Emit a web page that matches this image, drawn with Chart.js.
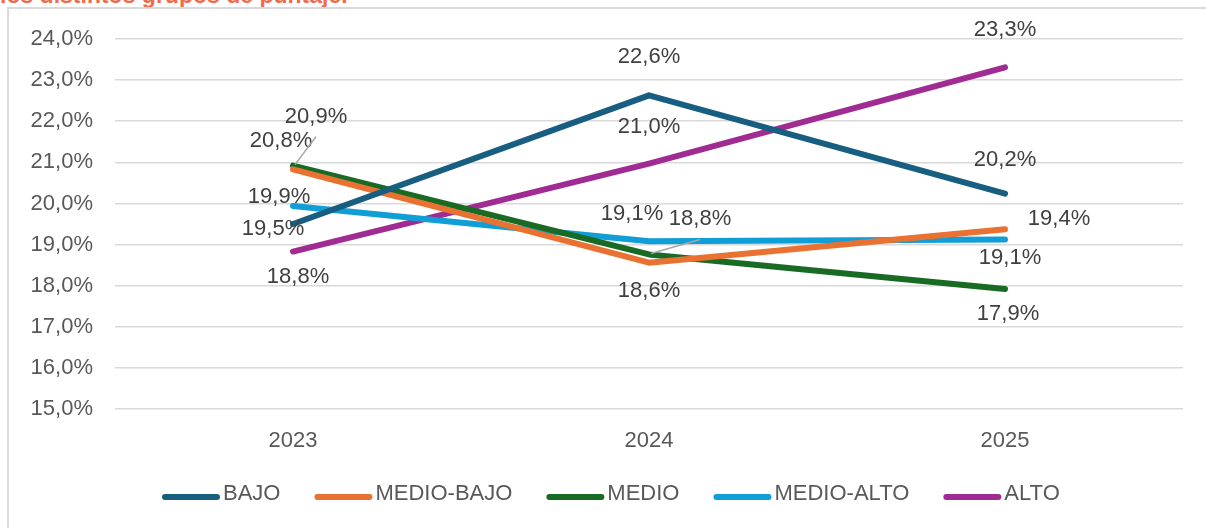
<!DOCTYPE html>
<html>
<head>
<meta charset="utf-8">
<script src="https://cdn.jsdelivr.net/npm/chart.js@4/dist/chart.umd.min.js"></script>
<style>
  html, body { margin: 0; padding: 0; background: #fff; }
  body { width: 1206px; height: 528px; position: relative; overflow: hidden; }
  #title {
    position: absolute; left: 0; top: -18px;
    font: bold 23px "Liberation Sans", Arial, sans-serif;
    color: #ee6c4d; white-space: nowrap;
  }
  #frame {
    position: absolute; left: 7px; top: 7px; width: 1300px; height: 600px;
    border-left: 2px solid #d9d9d9; border-top: 2px solid #d9d9d9;
  }
  #wrap { position: absolute; left: 0; top: 0; width: 1206px; height: 528px; }
</style>
</head>
<body>
<div id="title">los distintos grupos de puntaje.</div>
<div id="frame"></div>
<div id="wrap"><canvas id="chart"></canvas></div>
<script>
const years = ['2023', '2024', '2025'];
const bajo = [19.50, 22.63, 20.24];
const medioBajo = [20.83, 18.56, 19.37];
const medio = [20.92, 18.76, 17.92];
const medioAlto = [19.94, 19.08, 19.12];
const alto = [18.83, 20.97, 23.31];
const yTicks = [15, 16, 17, 18, 19, 20, 21, 22, 23, 24];

// label placement (pixel offsets from the point), leader = draw thin connector
const labelPos = {
  'BAJO':       [[-20, 5], [0, -38], [0, -34]],
  'MEDIO-BAJO': [[-12, -28], [0, 28], [54, -10]],
  'MEDIO':      [[23, -49, true], [51, -35, true], [3, 25]],
  'MEDIO-ALTO': [[-14, -9], [-17, -27], [5, 18]],
  'ALTO':       [[5, 25], [0, -37], [0, -37]],
};

const fmt = v => v.toFixed(1).replace('.', ',') + '%';
const FONT = '"Liberation Sans", Arial, sans-serif';

const pointLabels = {
  id: 'pointLabels',
  afterDatasetsDraw(chart) {
    const c = chart.ctx;
    c.save();
    c.font = '22px ' + FONT;
    c.fillStyle = '#404040';
    c.textAlign = 'center';
    c.textBaseline = 'middle';
    chart.data.datasets.forEach((ds, i) => {
      const meta = chart.getDatasetMeta(i);
      meta.data.forEach((pt, j) => {
        const [dx, dy, leader] = labelPos[ds.label][j];
        const lx = pt.x + dx, ly = pt.y + dy;
        if (leader) {
          c.strokeStyle = '#a6a6a6';
          c.lineWidth = 1.5;
          c.beginPath();
          c.moveTo(pt.x + 2, pt.y - 1);
          c.lineTo(lx, ly + 20);
          c.stroke();
        }
        c.fillText(fmt(ds.data[j]), lx, ly);
      });
    });
    c.restore();
  }
};

// legend drawn by hand so the spacing can follow the original
const lineLegend = {
  id: 'lineLegend',
  afterDraw(chart) {
    const c = chart.ctx;
    const sw = 58, gap = 3, itemGap = 34, y = 493;
    let x = 162;
    c.save();
    c.font = '22px ' + FONT;
    chart.data.datasets.forEach(ds => {
      const w = c.measureText(ds.label).width;
      c.strokeStyle = ds.borderColor;
      c.lineWidth = 6;
      c.lineCap = 'round';
      c.beginPath();
      c.moveTo(x + 3, y + 4);
      c.lineTo(x + sw - 3, y + 4);
      c.stroke();
      c.fillStyle = '#595959';
      c.textAlign = 'left';
      c.textBaseline = 'middle';
      c.fillText(ds.label, x + sw + gap, y + 1);
      x += sw + gap + w + itemGap;
    });
    c.restore();
  }
};

function series(label, data, color) {
  return {
    label, data,
    borderColor: color,
    backgroundColor: color,
    borderWidth: 6,
    borderCapStyle: 'round',
    borderJoinStyle: 'round',
    pointRadius: 0,
    tension: 0,
  };
}

new Chart(document.getElementById('chart'), {
  type: 'line',
  data: {
    labels: years,
    datasets: [
      series('BAJO', bajo, '#185e80'),
      series('MEDIO-BAJO', medioBajo, '#e97132'),
      series('MEDIO', medio, '#196b24'),
      series('MEDIO-ALTO', medioAlto, '#109ed6'),
      series('ALTO', alto, '#a02b93'),
    ]
  },
  options: {
    responsive: true,
    maintainAspectRatio: false,
    animation: false,
    layout: { padding: { left: 0, right: 23, top: 39, bottom: 69 } },
    plugins: {
      tooltip: { enabled: false },
      legend: { display: false }
    },
    scales: {
      x: {
        offset: true,
        grid: { display: false },
        border: { display: false },
        ticks: {
          color: '#595959', padding: 11,
          font: { family: FONT, size: 22 }
        },
        afterFit(scale) { scale.height = 50; }
      },
      y: {
        min: 15, max: 24,
        afterBuildTicks(scale) { scale.ticks = yTicks.map(v => ({ value: v })); },
        grid: { color: '#d9d9d9', lineWidth: 1.5, drawTicks: false },
        border: { display: false },
        ticks: {
          color: '#595959', padding: 22,
          font: { family: FONT, size: 22 },
          callback: v => fmt(v)
        },
        afterFit(scale) { scale.width = 115; }
      }
    }
  },
  plugins: [pointLabels, lineLegend]
});
</script>
</body>
</html>
